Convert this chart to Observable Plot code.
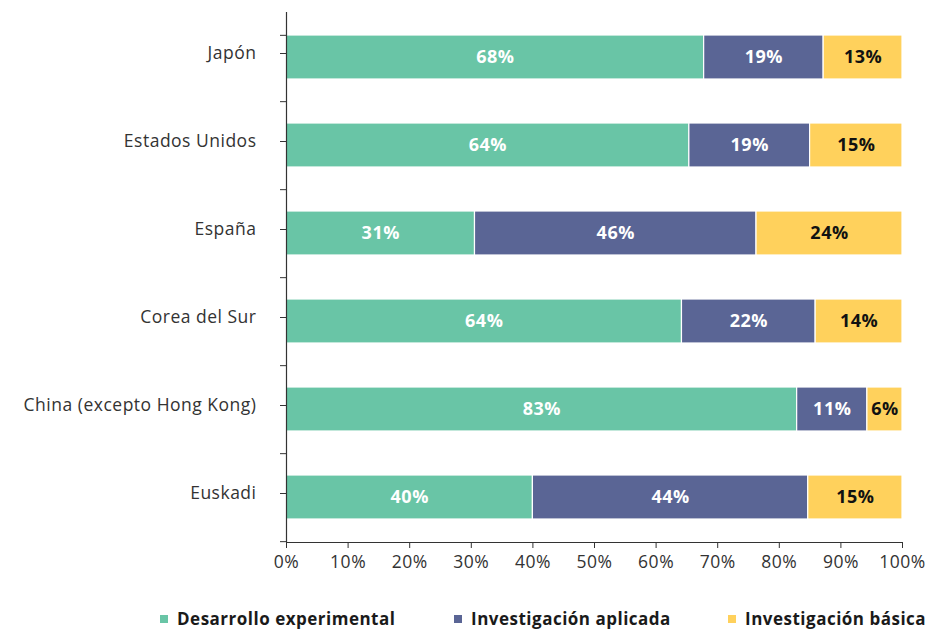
<!DOCTYPE html>
<html>
<head>
<meta charset="utf-8">
<script src="https://cdn.jsdelivr.net/npm/d3@7"></script>
<script src="https://cdn.jsdelivr.net/npm/@observablehq/plot@0.6"></script>
<style>
  html, body { margin: 0; padding: 0; background: #fff; }
  #chart { width: 930px; }
  .legend { font-family: "Open Sans", sans-serif; font-weight: 700; font-size: 17px; letter-spacing: 0.5px; color: #1a1a1a; height: 48px; }
  .legend span.sw { display: inline-block; width: 8px; height: 8px; margin-right: 9px; }
  .legend .item { display: flex; align-items: center; position: absolute; top: 22px; white-space: nowrap; }
  #chart svg text { letter-spacing: 0.5px; }
</style>
</head>
<body>
<div id="chart"></div>
<script>
const countries = ["Japón", "Estados Unidos", "España", "Corea del Sur", "China (excepto Hong Kong)", "Euskadi"];
const types = ["Desarrollo experimental", "Investigación aplicada", "Investigación básica"];
const colors = ["#69c5a6", "#5a6595", "#ffd15c"];
// shares (percent)
const desarrollo = [67.8, 65.4, 30.6, 64.2, 82.9, 40.0];
const aplicada   = [19.4, 19.6, 45.7, 21.7, 11.4, 44.7];
const basica     = [12.8, 15.0, 23.7, 14.1, 5.7, 15.3];
// printed labels
const desarrolloLbl = ["68%", "64%", "31%", "64%", "83%", "40%"];
const aplicadaLbl   = ["19%", "19%", "46%", "22%", "11%", "44%"];
const basicaLbl     = ["13%", "15%", "24%", "14%", "6%", "15%"];
const xTicks = [0, 0.1, 0.2, 0.3, 0.4, 0.5, 0.6, 0.7, 0.8, 0.9, 1];

const series = [desarrollo, aplicada, basica];
const labels = [desarrolloLbl, aplicadaLbl, basicaLbl];
const data = [];
countries.forEach((c, i) => {
  types.forEach((t, k) => {
    data.push({country: c, type: t, value: series[k][i] / 100, label: labels[k][i], dark: k === 2});
  });
});

const H = 585, mT = 12, mB = 43;
const step = (H - mT - mB) / countries.length;

const chart = Plot.plot({
  width: 930,
  height: H,
  marginLeft: 286,
  marginRight: 28,
  marginTop: mT,
  marginBottom: mB,
  style: {fontFamily: "'Open Sans', sans-serif", color: "#333", background: "#fff"},
  x: {domain: [0, 1], axis: null, label: null},
  y: {domain: countries, paddingInner: 0.5, paddingOuter: 0.25, axis: null, label: null},
  color: {domain: types, range: colors},
  marks: [
    Plot.barX(data, Plot.stackX({x: "value", y: "country", fill: "type", stroke: "white", strokeWidth: 1.2})),
    Plot.text(data, Plot.stackX({x: "value", y: "country", z: "type", text: "label",
      fill: d => d.dark ? "#111" : "#ffffff", fontWeight: 700, fontSize: 18,
      fontFamily: "'Open Sans', sans-serif"})),
    Plot.axisX({ticks: xTicks, tickFormat: d3.format(".0%"), tickSize: 6, tickPadding: 7, fontSize: 17.5, stroke: "#333", color: "#333", label: null}),
    Plot.axisY({tickSize: 6, tickPadding: 24, fontSize: 17.5, dy: -4, color: "#333", label: null}),
    Plot.axisY({tickSize: 6, tickFormat: () => "", dy: step / 2, label: null}),
    Plot.axisY(countries.slice(0, 1), {tickSize: 6, tickFormat: () => "", dy: -step / 2 + 22, label: null}),
    Plot.ruleX([0], {stroke: "#333", strokeWidth: 1.2}),
    Plot.frame({anchor: "bottom", stroke: "#333"})
  ]
});
document.getElementById("chart").appendChild(chart);

const legend = document.createElement("div");
legend.className = "legend";
legend.style.position = "relative";
const lx = [160, 454, 728];
types.forEach((t, k) => {
  const it = document.createElement("div");
  it.className = "item";
  it.style.left = lx[k] + "px";
  it.innerHTML = `<span class="sw" style="background:${colors[k]}"></span>${t}`;
  legend.appendChild(it);
});
document.body.appendChild(legend);
</script>
</body>
</html>
